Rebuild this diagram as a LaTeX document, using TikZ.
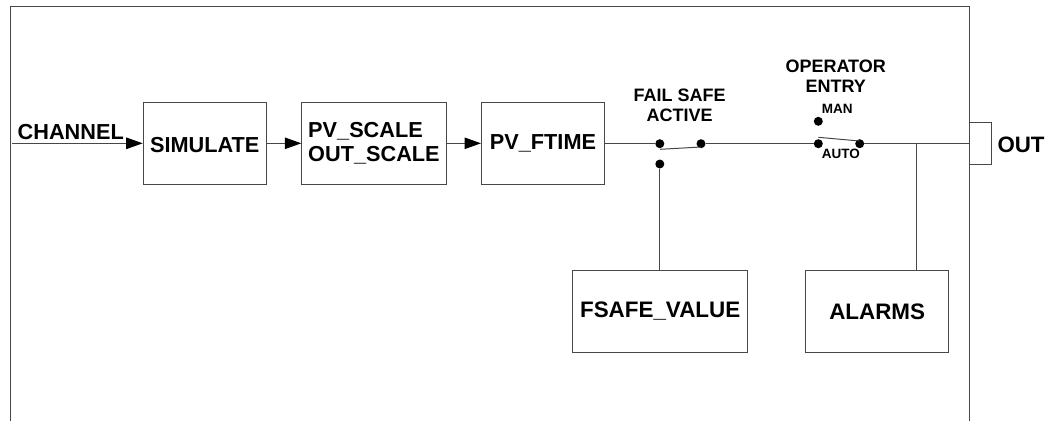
\documentclass[tikz,border=0pt]{standalone}
\usepackage{fontspec}
\setmainfont{Liberation Sans}
\usetikzlibrary{arrows.meta}
\tikzset{
  x=1pt,y=-1pt,
  line/.style={draw=black!72,line width=1pt},
  blockbox/.style={line,rectangle,inner sep=0pt,anchor=north west,text=black,font=\fontsize{21.7}{24}\selectfont\bfseries},
  baselinedrop/.style={text height={2*#1},text depth=0pt},
  lbl/.style={inner sep=0pt,align=center,text=black,font=\fontsize{18}{20.7}\selectfont\bfseries},
  biglbl/.style={inner sep=0pt,text=black,font=\fontsize{21.7}{24}\selectfont\bfseries},
  smalllbl/.style={inner sep=0pt,text=black,font=\fontsize{13.5}{16}\selectfont\bfseries},
  dot/.style={circle,fill=black,inner sep=0pt,minimum size=9pt},
  flow/.style={line,-{Triangle[length=16.5pt,width=11.5pt,black]}}
}
\begin{document}
\begin{tikzpicture}
\useasboundingbox (0,0) rectangle (1057,421);
\coordinate (ol) at (10,421); \coordinate (otl) at (10,6); \coordinate (otr) at (969,6); \coordinate (or) at (969,421);
\draw[line] (ol) -- (otl) -- (otr) -- (or);
\node[blockbox,minimum width=123pt,minimum height=82.3pt,baselinedrop=9.15pt] (sim) at (142.7,102) {SIMULATE};
\node[blockbox,minimum width=144.3pt,minimum height=82.3pt,align=left,baselinedrop=17.55pt] (scale) at (301.3,102) {PV\_SCALE\\OUT\_SCALE};
\node[blockbox,minimum width=123pt,minimum height=82.3pt,baselinedrop=5.85pt] (ftime) at (481,102) {PV\_FTIME};
\node[blockbox,minimum width=174.7pt,minimum height=81.7pt,baselinedrop=5.7pt,font=\fontsize{22.4}{24}\selectfont\bfseries] (fsafe) at (572.3,270.3) {FSAFE\_VALUE};
\node[blockbox,minimum width=143.3pt,minimum height=81.7pt,baselinedrop=8.3pt,font=\fontsize{22.4}{24}\selectfont\bfseries] (alarms) at (805,270.3) {ALARMS};
\node[line,rectangle,inner sep=0pt,anchor=north west,minimum width=21.7pt,minimum height=41.4pt] (outp) at (969,122.3) {};
\coordinate (in) at (12,143.3);
\draw[flow] (in) -- (sim.west |- in);
\draw[flow] (sim.east |- in) -- (scale.west |- in);
\draw[flow] (scale.east |- in) -- (ftime.west |- in);
\node[dot] (fa) at (659.8,143.7) {};
\node[dot] (fb) at (701,143.7) {};
\node[dot] (fc) at (659.8,164) {};
\node[dot] (oa) at (818.3,143.7) {};
\node[dot] (ob) at (859.7,143.7) {};
\node[dot] (om) at (818.3,121.3) {};
\coordinate (tap) at (916,143.7);
\draw[line] (ftime.east |- fa) -- (fa);
\draw[line] (fb) -- (oa);
\draw[line] (ob) -- (tap) -- (outp.west |- tap);
\draw[line] (tap) -- (alarms.north -| tap);
\draw[line] (fc) -- (fc |- fsafe.north);
\coordinate (fs) at (660,149.3); \coordinate (fe) at (701,147);
\coordinate (os) at (818.3,137.3); \coordinate (oe) at (859.5,141);
\draw[line] (fs) -- (fe);
\draw[line] (os) -- (oe);
\node[biglbl,anchor=base west] (chan) at (17.5,139) {CHANNEL};
\node[biglbl,anchor=base west,font=\fontsize{22.3}{24}\selectfont\bfseries] (out) at (997.3,152.3) {OUT};
\node[lbl,anchor=base] (fail) at (679.7,121.7) {FAIL SAFE\\ACTIVE};
\node[lbl,anchor=base] (oper) at (835.7,92.7) {OPERATOR\\ENTRY};
\node[smalllbl,anchor=base west] (man) at (821.7,113.3) {MAN};
\node[smalllbl,anchor=base west] (auto) at (821.7,158.3) {AUTO};
\end{tikzpicture}
\end{document}
